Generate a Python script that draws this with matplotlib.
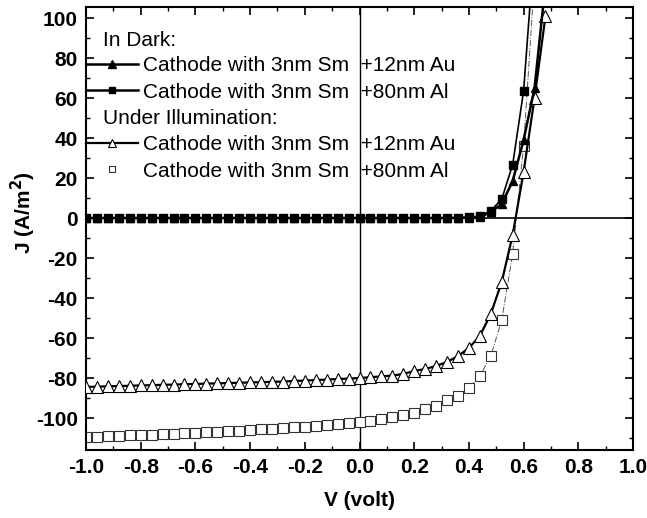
import numpy as np
import matplotlib
matplotlib.use("Agg")
import matplotlib.pyplot as plt
from matplotlib.lines import Line2D
from matplotlib.ticker import MultipleLocator

plt.rcParams['font.family'] = ['Liberation Sans', 'DejaVu Sans']

voltage = [-1.00, -0.96, -0.92, -0.88, -0.84, -0.80, -0.76, -0.72, -0.68, -0.64,
           -0.60, -0.56, -0.52, -0.48, -0.44, -0.40, -0.36, -0.32, -0.28, -0.24,
           -0.20, -0.16, -0.12, -0.08, -0.04, 0.00, 0.04, 0.08, 0.12, 0.16,
           0.20, 0.24, 0.28, 0.32, 0.36, 0.40, 0.44, 0.48, 0.52, 0.56,
           0.60, 0.64, 0.68]

dark_au = [0.0, 0.0, 0.0, 0.0, 0.0, 0.0, 0.0, 0.0, 0.0, 0.0,
           0.0, 0.0, 0.0, 0.0, 0.0, 0.0, 0.0, 0.0, 0.0, 0.0,
           0.0, 0.0, 0.0, 0.0, 0.0, 0.0, 0.0, 0.0, 0.0, 0.0,
           0.0, 0.0, 0.0, 0.0, 0.1, 0.2, 0.5, 3.0, 7.0, 18.5,
           39.0, 65.0, 117.0]

dark_al = [0.0, 0.0, 0.0, 0.0, 0.0, 0.0, 0.0, 0.0, 0.0, 0.0,
           0.0, 0.0, 0.0, 0.0, 0.0, 0.0, 0.0, 0.0, 0.0, 0.0,
           0.0, 0.0, 0.0, 0.0, 0.0, 0.0, 0.0, 0.0, 0.0, 0.0,
           0.0, 0.0, 0.0, 0.0, 0.1, 0.3, 1.0, 3.6, 9.4, 26.7,
           63.5, 137.0, np.nan]

light_au = [-84.5, -84.3, -84.2, -84.0, -83.9, -83.7, -83.6, -83.4, -83.3, -83.1,
            -83.0, -82.8, -82.7, -82.5, -82.4, -82.2, -82.1, -81.9, -81.8, -81.5,
            -81.3, -81.0, -80.8, -80.5, -80.3, -80.0, -79.6, -79.2, -78.8, -78.0,
            -76.5, -75.5, -74.0, -72.0, -69.0, -65.0, -59.0, -48.0, -32.0, -8.5,
            23.0, 60.0, 101.0]

light_al = [-109.5, -109.3, -109.1, -108.9, -108.7, -108.5, -108.3, -108.0, -107.8, -107.6,
            -107.3, -107.1, -106.8, -106.5, -106.3, -106.0, -105.7, -105.4, -105.1, -104.7,
            -104.3, -103.9, -103.5, -103.0, -102.5, -102.0, -101.3, -100.5, -99.7, -98.7,
            -97.3, -95.5, -94.0, -91.0, -89.0, -85.0, -79.0, -69.0, -51.0, -18.0,
            36.0, 120.0, np.nan]

labels = ["Cathode with 3nm Sm  +12nm Au", "Cathode with 3nm Sm  +80nm Al",
          "Cathode with 3nm Sm  +12nm Au", "Cathode with 3nm Sm  +80nm Al"]
headers = ["In Dark:", "Under Illumination:"]
xticks = [-1.0, -0.8, -0.6, -0.4, -0.2, 0.0, 0.2, 0.4, 0.6, 0.8, 1.0]
yticks = [-100, -80, -60, -40, -20, 0, 20, 40, 60, 80, 100]

fig = plt.figure(figsize=(6.47, 5.18), dpi=100)
ax = fig.add_axes([86/647, 1-450/518, 547/647, 443/518])

ax.axhline(0, color='black', lw=1.2, zorder=1)
ax.axvline(0, color='black', lw=1.0, zorder=1)

h1, = ax.plot(voltage, dark_au, color='black', lw=1.8, marker='^', ms=6,
              mfc='black', mec='black', zorder=4)
h2, = ax.plot(voltage, dark_al, color='black', lw=1.2, marker='s', ms=5.5,
              mfc='black', mec='black', zorder=3)
h3, = ax.plot(voltage, light_au, color='black', lw=1.6, marker='^', ms=8,
              mfc='white', mec='black', mew=0.8, zorder=3)
h4, = ax.plot(voltage, light_al, color='#555555', lw=0.7, ls='-.', marker='s', ms=7,
              mfc='white', mec='#333333', mew=0.8, zorder=2)

ax.set_xlim(-1.0, 1.0)
ax.set_ylim(-116, 105.5)
ax.set_xticks(xticks)
ax.set_yticks(yticks)
ax.set_xticklabels([f"{v:.1f}" for v in xticks])
ax.set_yticklabels([f"{v:d}" for v in yticks])
ax.xaxis.set_minor_locator(MultipleLocator(0.1))
ax.yaxis.set_minor_locator(MultipleLocator(10))
ax.tick_params(which='both', direction='in', top=True, right=True)
ax.tick_params(which='major', length=6, width=1.2, labelsize=15, pad=6)
ax.tick_params(which='minor', length=3, width=1.0)
for lab in ax.get_xticklabels() + ax.get_yticklabels():
    lab.set_fontweight('bold')
for s in ax.spines.values():
    s.set_linewidth(1.5)

ax.set_xlabel("V (volt)", fontsize=15, fontweight='bold', labelpad=10)
ax.set_ylabel("J (A/m$^\\mathbf{2}$)", fontsize=15, fontweight='bold')
ax.yaxis.set_label_coords((38-86)/547, (450-213)/443)

leg_h4 = Line2D([], [], ls='none', marker='s', ms=5, mfc='white', mec='#333333', mew=0.8)
leg_h1 = Line2D([], [], color='black', lw=1.8, marker='^', ms=6, mfc='black', mec='black')
leg_h2 = Line2D([], [], color='black', lw=1.8, marker='s', ms=5, mfc='black', mec='black')
leg_h3 = Line2D([], [], color='black', lw=1.6, marker='^', ms=6, mfc='white', mec='black', mew=0.8)

common = dict(loc='center left', frameon=False, fontsize=15, handlelength=2.5,
              handletextpad=0.25, labelspacing=0.36, borderpad=0.0, borderaxespad=0.0)
leg1 = ax.legend([leg_h1, leg_h2], [labels[0], labels[1]],
                 bbox_to_anchor=(0.0, (450-79)/443), **common)
ax.add_artist(leg1)
leg2 = ax.legend([leg_h3, leg_h4], [labels[2], labels[3]],
                 bbox_to_anchor=(0.0, (450-158)/443), **common)

ax.text(17/547, (450-40)/443, headers[0], transform=ax.transAxes, fontsize=15,
        va='center', ha='left')
ax.text(17/547, (450-118)/443, headers[1], transform=ax.transAxes, fontsize=15,
        va='center', ha='left')

fig.savefig("out.png", dpi=100)
